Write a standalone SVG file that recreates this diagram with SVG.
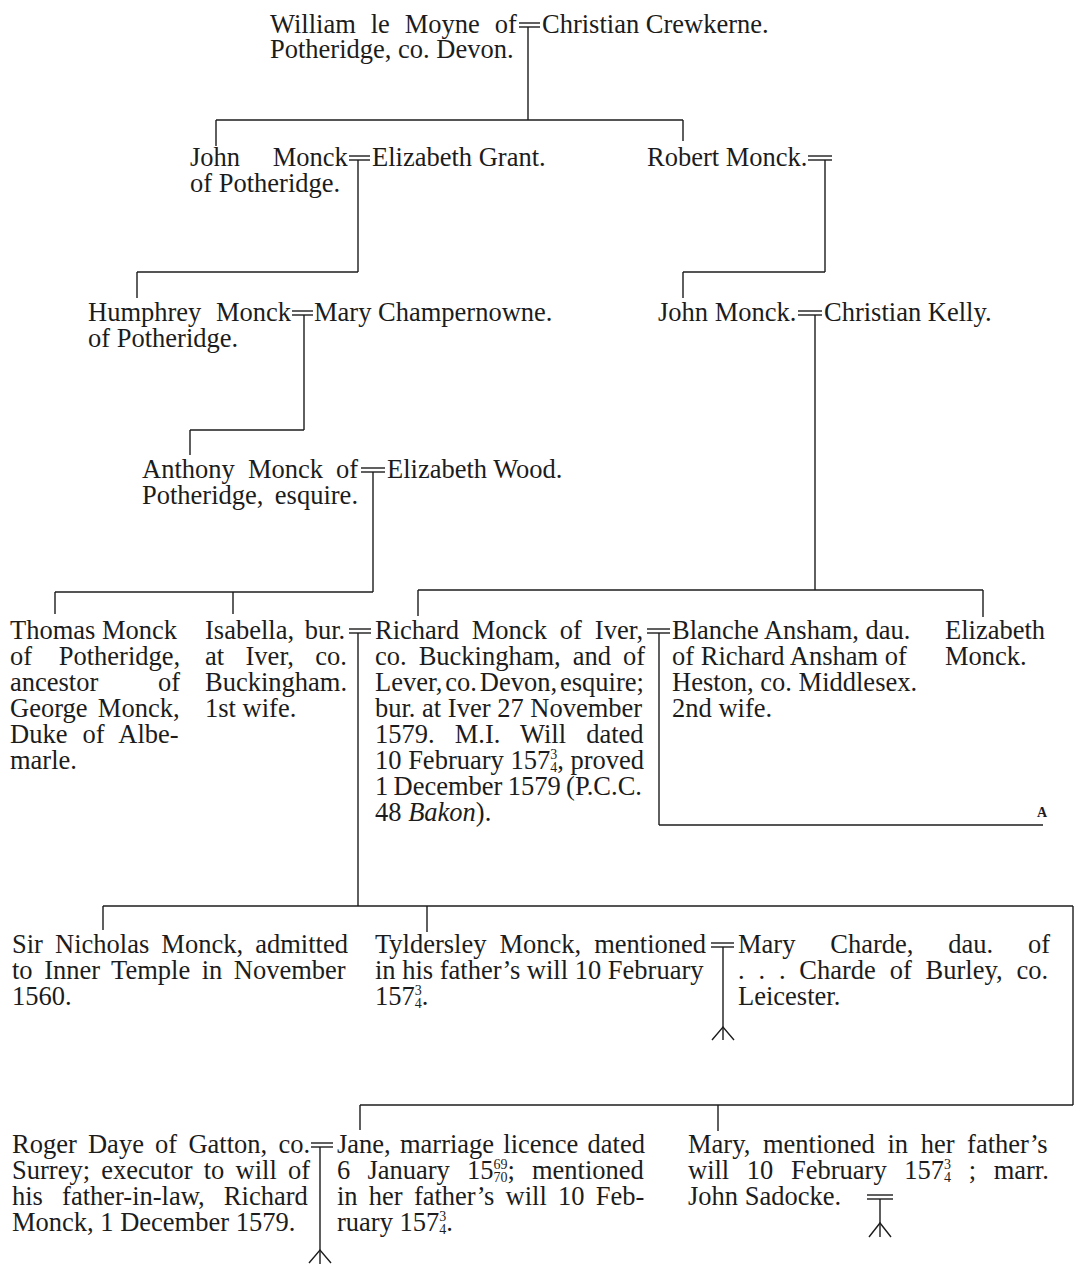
<svg xmlns="http://www.w3.org/2000/svg" width="1077" height="1264" viewBox="0 0 1077 1264">
<style>
text{font-family:"Liberation Serif","Times New Roman",serif;font-size:26.5px;fill:#1c1c1c}
.fr{font-size:14px}
.a{font-size:14px;font-weight:bold}
.ln line,.ln path{stroke:#1c1c1c;stroke-width:1.4;fill:none}
</style>
<rect width="1077" height="1264" fill="#fff"/>
<g id="connectors" class="ln">
<line x1="519" y1="23" x2="540" y2="23"/><line x1="519" y1="27" x2="540" y2="27"/>
<line x1="528" y1="27" x2="528" y2="120"/>
<line x1="216" y1="120" x2="683" y2="120"/>
<line x1="216" y1="120" x2="216" y2="146"/>
<line x1="683" y1="120" x2="683" y2="141"/>
<line x1="349" y1="156" x2="370" y2="156"/><line x1="349" y1="160" x2="370" y2="160"/>
<line x1="358" y1="160" x2="358" y2="272"/>
<line x1="137" y1="272" x2="358" y2="272"/>
<line x1="137" y1="272" x2="137" y2="298"/>
<line x1="808" y1="156" x2="832" y2="156"/><line x1="808" y1="160" x2="832" y2="160"/>
<line x1="825" y1="160" x2="825" y2="272"/>
<line x1="683" y1="272" x2="825" y2="272"/>
<line x1="683" y1="272" x2="683" y2="298"/>
<line x1="292" y1="311" x2="313" y2="311"/><line x1="292" y1="315" x2="313" y2="315"/>
<line x1="304" y1="315" x2="304" y2="430"/>
<line x1="190" y1="430" x2="304" y2="430"/>
<line x1="190" y1="430" x2="190" y2="455"/>
<line x1="798" y1="311" x2="822" y2="311"/><line x1="798" y1="315" x2="822" y2="315"/>
<line x1="815" y1="315" x2="815" y2="590"/>
<line x1="361" y1="468" x2="385" y2="468"/><line x1="361" y1="472" x2="385" y2="472"/>
<line x1="373" y1="472" x2="373" y2="592"/>
<line x1="55" y1="592" x2="373" y2="592"/>
<line x1="55" y1="592" x2="55" y2="614"/>
<line x1="233" y1="592" x2="233" y2="614"/>
<line x1="418" y1="590" x2="983" y2="590"/>
<line x1="418" y1="590" x2="418" y2="616"/>
<line x1="983" y1="590" x2="983" y2="617"/>
<line x1="349" y1="629" x2="371" y2="629"/><line x1="349" y1="633" x2="371" y2="633"/>
<line x1="358" y1="633" x2="358" y2="906"/>
<line x1="647" y1="629" x2="670" y2="629"/><line x1="647" y1="633" x2="670" y2="633"/>
<line x1="659" y1="633" x2="659" y2="825"/>
<line x1="659" y1="825" x2="1043" y2="825"/>
<line x1="103" y1="906" x2="1073" y2="906"/>
<line x1="103" y1="906" x2="103" y2="930"/>
<line x1="427" y1="906" x2="427" y2="932"/>
<line x1="1073" y1="906" x2="1073" y2="1105"/>
<line x1="360" y1="1105" x2="1073" y2="1105"/>
<line x1="360" y1="1105" x2="360" y2="1130"/>
<line x1="718" y1="1105" x2="718" y2="1131"/>
<line x1="711" y1="943" x2="734" y2="943"/><line x1="711" y1="947" x2="734" y2="947"/>
<line x1="723" y1="947" x2="723" y2="1040"/>
<path d="M712 1040 L723 1027 L734 1040"/>
<line x1="311" y1="1143" x2="333" y2="1143"/><line x1="311" y1="1147" x2="333" y2="1147"/>
<line x1="320" y1="1147" x2="320" y2="1264"/>
<path d="M309 1263 L320 1250 L331 1263"/>
<line x1="867" y1="1195" x2="893" y2="1195"/><line x1="867" y1="1199" x2="893" y2="1199"/>
<line x1="880" y1="1199" x2="880" y2="1237"/>
<path d="M869 1237 L880 1223 L891 1237"/>
</g>
<text class="a" x="1037" y="817">A</text>

<g id="william">
<text x="270" y="33" word-spacing="8.3">William le Moyne of</text>
<text x="270" y="58">Potheridge, co. Devon.</text>
</g>
<g id="christian-crewkerne"><text x="542" y="33">Christian Crewkerne.</text></g>

<g id="john-monck-1">
<text x="190" y="166" word-spacing="26">John Monck</text>
<text x="190" y="192">of Potheridge.</text>
</g>
<g id="elizabeth-grant"><text x="372" y="166">Elizabeth Grant.</text></g>
<g id="robert-monck"><text x="647" y="166">Robert Monck.</text></g>

<g id="humphrey">
<text x="88" y="321" word-spacing="8">Humphrey Monck</text>
<text x="88" y="347">of Potheridge.</text>
</g>
<g id="mary-champernowne"><text x="314" y="321">Mary Champernowne.</text></g>
<g id="john-monck-2"><text x="658" y="321">John Monck.</text></g>
<g id="christian-kelly"><text x="824" y="321">Christian Kelly.</text></g>

<g id="anthony">
<text x="142" y="478" word-spacing="6.5">Anthony Monck of</text>
<text x="142" y="504" word-spacing="4.8">Potheridge, esquire.</text>
</g>
<g id="elizabeth-wood"><text x="387" y="478">Elizabeth Wood.</text></g>

<g id="thomas">
<text x="10" y="639">Thomas Monck</text>
<text x="10" y="665" word-spacing="20">of Potheridge,</text>
<text x="10" y="691" word-spacing="53">ancestor of</text>
<text x="10" y="717" word-spacing="3.7">George Monck,</text>
<text x="10" y="743" word-spacing="8.5">Duke of Albe-</text>
<text x="10" y="769">marle.</text>
</g>
<g id="isabella">
<text x="205" y="639" word-spacing="4">Isabella, bur.</text>
<text x="205" y="665" word-spacing="14.8">at Iver, co.</text>
<text x="205" y="691">Buckingham.</text>
<text x="205" y="717">1st wife.</text>
</g>
<g id="richard">
<text x="375" y="639" word-spacing="6.3">Richard Monck of Iver,</text>
<text x="375" y="665" word-spacing="5.4">co. Buckingham, and of</text>
<text x="375" y="691" word-spacing="-3.7">Lever, co. Devon, esquire;</text>
<text x="375" y="717">bur. at Iver 27 November</text>
<text x="375" y="743" word-spacing="13.5">1579. M.I. Will dated</text>
<text x="375" y="769">10 February 157<tspan class="fr" dy="-10">3</tspan><tspan class="fr" dx="-7" dy="13">4</tspan><tspan dy="-3">, proved</tspan></text>
<text x="375" y="795" word-spacing="-1.3">1 December 1579 (P.C.C.</text>
<text x="375" y="821">48 <tspan font-style="italic">Bakon</tspan>).</text>
</g>
<g id="blanche">
<text x="672" y="639">Blanche Ansham, dau.</text>
<text x="672" y="665">of Richard Ansham of</text>
<text x="672" y="691">Heston, co. Middlesex.</text>
<text x="672" y="717">2nd wife.</text>
</g>
<g id="elizabeth-monck">
<text x="945" y="639">Elizabeth</text>
<text x="945" y="665">Monck.</text>
</g>

<g id="nicholas">
<text x="12" y="953" word-spacing="5.5">Sir Nicholas Monck, admitted</text>
<text x="12" y="979" word-spacing="4.9">to Inner Temple in November</text>
<text x="12" y="1005">1560.</text>
</g>
<g id="tyldersley">
<text x="375" y="953" word-spacing="6.4">Tyldersley Monck, mentioned</text>
<text x="375" y="979">in his father’s will 10 February</text>
<text x="375" y="1005">157<tspan class="fr" dy="-10">3</tspan><tspan class="fr" dx="-7" dy="13">4</tspan><tspan dy="-3">.</tspan></text>
</g>
<g id="mary-charde">
<text x="738" y="953" word-spacing="28.2">Mary Charde, dau. of</text>
<text x="738" y="979" word-spacing="7.2">. . . Charde of Burley, co.</text>
<text x="738" y="1005">Leicester.</text>
</g>

<g id="roger">
<text x="12" y="1153" word-spacing="4.6">Roger Daye of Gatton, co.</text>
<text x="12" y="1179" word-spacing="4.6">Surrey; executor to will of</text>
<text x="12" y="1205" word-spacing="12.5">his father-in-law, Richard</text>
<text x="12" y="1231">Monck, 1 December 1579.</text>
</g>
<g id="jane">
<text x="337" y="1153" word-spacing="2.6">Jane, marriage licence dated</text>
<text x="337" y="1179" word-spacing="10.5">6 January 15<tspan class="fr" dy="-10">69</tspan><tspan class="fr" dx="-14" dy="13">70</tspan><tspan dy="-3">; mentioned</tspan></text>
<text x="337" y="1205" word-spacing="4.6">in her father’s will 10 Feb-</text>
<text x="337" y="1231">ruary 157<tspan class="fr" dy="-10">3</tspan><tspan class="fr" dx="-7" dy="13">4</tspan><tspan dy="-3">.</tspan></text>
</g>
<g id="mary">
<text x="688" y="1153" word-spacing="6">Mary, mentioned in her father’s</text>
<text x="688" y="1179" word-spacing="11">will 10 February 157<tspan class="fr" dy="-10">3</tspan><tspan class="fr" dx="-7" dy="13">4</tspan><tspan dy="-3"> ; marr.</tspan></text>
<text x="688" y="1205">John Sadocke.</text>
</g>
</svg>
